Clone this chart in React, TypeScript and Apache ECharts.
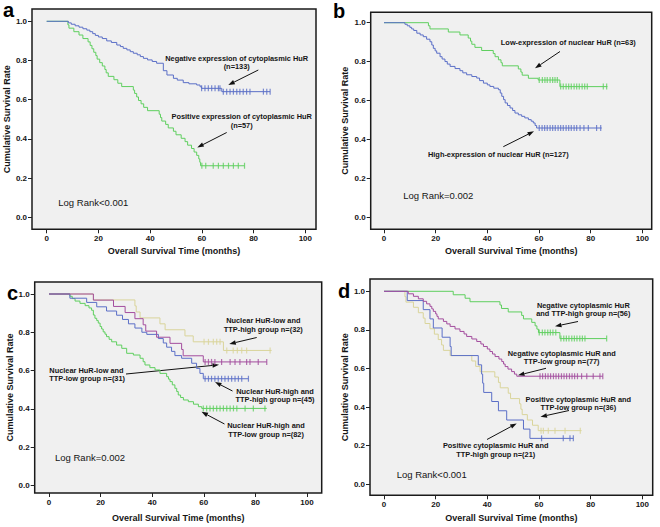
import React, { useEffect, useRef } from "react";
import * as echarts from "echarts";

// ---------- shared tick labels ----------
const xTicks = [0, 20, 40, 60, 80, 100];
const yTicks = [0, 0.2, 0.4, 0.6, 0.8, 1.0];
const xTitle = "Overall Survival Time (months)";
const yTitle = "Cumulative Survival Rate";

// ---------- panel a ----------
const aNegSteps = [
  [0, 1], [8.4, 0.992], [9.5, 0.985], [11, 0.977], [12.5, 0.97], [14, 0.962], [15.5, 0.955], [16.7, 0.947],
  [17.8, 0.937], [18.8, 0.928], [20, 0.92], [21.5, 0.912], [23.2, 0.9], [25, 0.892], [27.1, 0.879], [28.5, 0.871],
  [29.6, 0.862], [31, 0.854], [32.3, 0.845], [33.5, 0.837], [35, 0.829], [36.2, 0.82], [37.4, 0.811], [39, 0.803],
  [40.8, 0.795], [42.5, 0.786], [45.1, 0.748], [46.5, 0.726], [49, 0.709], [50.5, 0.7], [52.8, 0.687], [55, 0.681],
  [58, 0.675], [59.3, 0.666], [59.9, 0.658], [67.7, 0.641],
];
const aNegEnd = 86.4;
const aNegCensored = [59.9, 61.2, 62.5, 63.8, 65.1, 66.4, 67.0, 68.3, 69.6, 70.9, 72.2, 73.5, 74.7, 76.0, 77.3, 78.6, 83.8, 85.1, 86.4];

const aPosSteps = [
  [0, 1], [8.2, 0.982], [8.6, 0.965], [10.5, 0.947], [12.5, 0.93], [14, 0.912], [16, 0.895], [16.8, 0.877],
  [17.5, 0.86], [18.2, 0.842], [19, 0.825], [19.5, 0.807], [20.5, 0.789], [21.5, 0.772], [22.5, 0.754], [23, 0.737],
  [23.8, 0.719], [26, 0.702], [27.5, 0.684], [29, 0.667], [33.5, 0.649], [34, 0.632], [34.8, 0.614], [35.5, 0.596],
  [36.5, 0.579], [37.5, 0.561], [39, 0.544], [43.5, 0.526], [44, 0.509], [44.5, 0.491], [46, 0.474], [47, 0.456],
  [49, 0.439], [50, 0.421], [52, 0.403], [53.5, 0.386], [54.5, 0.368], [56, 0.351], [57, 0.333], [58, 0.316],
  [58.8, 0.298], [59.2, 0.281], [59.5, 0.263],
];
const aPosEnd = 76.5;
const aPosCensored = [60, 61.5, 64.4, 66.4, 68.3, 70.3, 72.2, 74.1, 76.5];

// ---------- panel b ----------
const bLowSteps = [
  [0, 1], [17.2, 0.984], [17.8, 0.968], [24.9, 0.952], [29.4, 0.937], [32.6, 0.921], [33.5, 0.905], [34, 0.889],
  [35.2, 0.873], [37.8, 0.857], [42.3, 0.841], [43, 0.825], [44.3, 0.809], [45.3, 0.794], [45.8, 0.778], [52, 0.762],
  [53, 0.746], [53.5, 0.73], [55.9, 0.714], [59.7, 0.705], [68.1, 0.671],
];
const bLowEnd = 86.5;
const bLowCensored = [60.1, 61.3, 62.3, 63.2, 64.3, 65.3, 66.2, 67.1, 68.4, 69.4, 70.5, 71.5, 72.5, 73.6, 74.6, 75.6, 76.7, 77.7, 78.7, 84.9, 86.2];

const bHighSteps = [
  [0, 1], [8.1, 0.992], [9, 0.984], [10, 0.976], [10.7, 0.968], [11.5, 0.96], [12.7, 0.946], [14, 0.937],
  [15.2, 0.928], [16.5, 0.915], [17.8, 0.902], [18.5, 0.885], [19.1, 0.868], [19.8, 0.855], [20.4, 0.843],
  [21.7, 0.825], [22.5, 0.813], [23.6, 0.8], [24.5, 0.787], [25.6, 0.775], [27.5, 0.764], [29.4, 0.753],
  [30.5, 0.742], [32, 0.732], [34, 0.723], [35.9, 0.715], [37, 0.702], [38.5, 0.689], [40, 0.68], [41, 0.672],
  [42.5, 0.663], [44.3, 0.655], [45, 0.638], [45.6, 0.621], [46.3, 0.604], [46.9, 0.587], [47.8, 0.574],
  [48.8, 0.561], [49.8, 0.548], [50.7, 0.535], [52, 0.526], [53.3, 0.518], [54.5, 0.51], [55.9, 0.501],
  [57, 0.493], [57.8, 0.484], [58.5, 0.471], [59.1, 0.458],
];
const bHighEnd = 84.3;
const bHighCensored = [60.1, 61.2, 62.2, 63.2, 64.3, 65.3, 66.3, 67.4, 68.4, 69.4, 70.5, 71.5, 72.5, 73.6, 74.6, 75.9, 77.4, 79.1, 82.3, 83.9];

// ---------- panel c ----------
const cLowHighSteps = [
  [0, 1], [17.2, 0.969], [33.3, 0.938], [33.8, 0.906], [35.3, 0.875], [43, 0.844], [45, 0.813], [52.7, 0.781],
  [55.9, 0.75], [67.6, 0.705],
];
const cLowHighEnd = 86.3;
const cLowHighCensored = [60.1, 61.8, 63.7, 65, 66.3, 68.9, 71.4, 73, 74.7, 76.6, 85.7];

const cLowLowSteps = [
  [0, 1], [17.2, 0.968], [25, 0.935], [29.5, 0.903], [33.3, 0.871], [36.5, 0.839], [37.5, 0.806], [41.7, 0.774],
  [46.9, 0.742], [51.4, 0.71], [52, 0.677], [59.8, 0.645],
];
const cLowLowEnd = 84.4;
const cLowLowCensored = [60.5, 61.8, 63.0, 64.3, 66.9, 70.2, 72.1, 74.0, 76.6, 77.9, 81.1, 84.4];

const cHighHighSteps = [
  [0, 1], [8.1, 0.978], [14.6, 0.956], [18.5, 0.933], [22.3, 0.911], [26.2, 0.889], [28.5, 0.867], [30.8, 0.844],
  [33.3, 0.822], [36, 0.8], [37.9, 0.789], [42.4, 0.767], [44.3, 0.744], [45.6, 0.722], [47.5, 0.7], [48.8, 0.678],
  [51.4, 0.664], [55.3, 0.638], [57.2, 0.611], [58.5, 0.585], [59.8, 0.557],
];
const cHighHighEnd = 77.3;
const cHighHighCensored = [60.5, 61.8, 63.0, 64.3, 65.6, 66.9, 68.2, 69.5, 70.8, 72.1, 73.4, 74.7, 77.3];

const cHighLowSteps = [
  [0, 1], [8.1, 0.988], [9, 0.976], [10.1, 0.963], [12, 0.951], [14, 0.939], [15.5, 0.927], [16.5, 0.915],
  [17.2, 0.89], [17.8, 0.873], [18.5, 0.861], [19.1, 0.848], [19.8, 0.83], [20.4, 0.817], [21, 0.802],
  [21.7, 0.79], [22.3, 0.777], [23.3, 0.763], [24.3, 0.75], [26.2, 0.733], [28.2, 0.716], [30.1, 0.69],
  [32.7, 0.681], [35.3, 0.664], [36.5, 0.646], [37.2, 0.629], [39.1, 0.615], [41.1, 0.603], [43, 0.585],
  [45.6, 0.568], [46.3, 0.555], [46.9, 0.542], [47.8, 0.525], [48.8, 0.507], [49.5, 0.49], [50.1, 0.472],
  [51, 0.459], [52.1, 0.446], [54, 0.437], [56, 0.424], [57.9, 0.411], [59.2, 0.402],
];
const cHighLowEnd = 84.4;
const cHighLowCensored = [59.8, 61.1, 62.4, 63.7, 65.0, 66.3, 67.6, 68.9, 70.2, 71.5, 72.8, 76.0, 79.2, 83.7];

// ---------- panel d ----------
const dNegHighSteps = [
  [0, 1], [26.8, 0.982], [31.4, 0.964], [33.3, 0.946], [44.9, 0.929], [45.5, 0.911], [48.1, 0.893],
  [53.3, 0.875], [54, 0.857], [57.2, 0.839], [58.5, 0.821], [59.2, 0.804], [59.8, 0.786], [68.1, 0.755],
];
const dNegHighEnd = 86.2;
const dNegHighCensored = [60.1, 61.3, 62.3, 63.4, 64.4, 65.4, 66.5, 68.5, 69.6, 70.6, 71.6, 72.7, 73.7, 74.7, 75.8, 76.8, 77.8, 86.2];

const dNegLowSteps = [
  [0, 1], [9.4, 0.987], [11.4, 0.974], [13.3, 0.961], [15.2, 0.948], [16.5, 0.935], [17.8, 0.922], [18.5, 0.909],
  [19.1, 0.896], [20, 0.883], [20.5, 0.87], [21, 0.857], [23, 0.844], [24.3, 0.831], [25.6, 0.818], [27.5, 0.805],
  [29.4, 0.792], [31, 0.779], [32, 0.766], [34, 0.753], [35.9, 0.74], [37.5, 0.727], [38.5, 0.714], [40, 0.701],
  [41, 0.688], [42, 0.675], [43, 0.662], [44.5, 0.649], [45.6, 0.636], [46.3, 0.623], [46.9, 0.61], [48, 0.597],
  [49.4, 0.584], [50.5, 0.571], [51.4, 0.56],
];
const dNegLowEnd = 84.7;
const dNegLowCensored = [60.4, 61.4, 62.5, 63.5, 64.5, 65.6, 66.6, 67.6, 68.7, 69.7, 70.7, 71.8, 72.8, 73.8, 74.9, 76.5, 78.5, 81.0, 83.6, 84.7];

const dPosLowSteps = [
  [0, 1], [8.1, 0.972], [8.5, 0.944], [11.4, 0.917], [13.3, 0.889], [15.2, 0.861], [15.9, 0.833], [17.8, 0.806],
  [19.5, 0.778], [21, 0.75], [22.3, 0.722], [23, 0.694], [25.6, 0.667], [34, 0.639], [35.5, 0.611], [37.2, 0.583],
  [42.9, 0.556], [44.3, 0.528], [45, 0.5], [48.1, 0.472], [49, 0.444], [52.5, 0.417], [53, 0.389], [53.5, 0.361],
  [55.5, 0.333], [57.5, 0.306], [59.7, 0.278],
];
const dPosLowEnd = 76.5;
const dPosLowCensored = [60.8, 61.7, 63.6, 66.2, 70.1, 76];

const dPosHighSteps = [
  [0, 1], [9, 0.952], [15.2, 0.905], [17.8, 0.857], [19.1, 0.81], [22.5, 0.762], [25.6, 0.714], [26, 0.667],
  [36.5, 0.619], [37.8, 0.571], [38.2, 0.524], [38.6, 0.476], [41.7, 0.429], [44.3, 0.381], [47.5, 0.333],
  [54, 0.286], [56.5, 0.238],
];
const dPosHighEnd = 73.3;
const dPosHighCensored = [61, 69.4, 72, 73.3];

// ---------- styling ----------
const BLUE = "#5b6fc7";
const GREEN = "#5fcf5f";
const PURPLE = "#a34d9e";
const KHAKI = "#d9d49a";
const TXT = "#151515";
const FONT = '"Liberation Sans", Arial, sans-serif';

type Curve = { steps: number[][]; end: number; censored: number[]; color: string };
type Panel = {
  letter: string; letterPos: [number, number];
  frame: [number, number, number, number];
  x0: number; x100: number; y0: number; y1: number;
  xNameGap: number; yNameGap: number;
  logRank: string; logPos: [number, number];
  curves: Curve[];
  notes: [string, number, number, string?][];
  arrows: [number, number, number, number][];
};

const panels: Panel[] = [
  {
    letter: "a", letterPos: [3, 10], frame: [32, 9, 316, 229.3], x0: 46.7, x100: 305.3, y0: 217.3, y1: 21.3,
    xNameGap: 17, yNameGap: 18, logRank: "Log Rank<0.001", logPos: [58.3, 202.5],
    curves: [
      { steps: aPosSteps, end: aPosEnd, censored: aPosCensored, color: GREEN },
      { steps: aNegSteps, end: aNegEnd, censored: aNegCensored, color: BLUE },
    ],
    notes: [
      ["Negative expression of cytoplasmic HuR\n(n=133)", 236.7, 62.3],
      ["Positive expression of cytoplasmic HuR\n(n=57)", 241.7, 121],
    ],
    arrows: [[258.3, 70, 228.3, 85], [226.7, 132.5, 197.3, 147.5]],
  },
  {
    letter: "b", letterPos: [333, 11], frame: [370.7, 12.3, 651.7, 229.3], x0: 384, x100: 642.3, y0: 217, y1: 22.7,
    xNameGap: 17, yNameGap: 21.5, logRank: "Log Rank=0.002", logPos: [403.3, 195.8],
    curves: [
      { steps: bLowSteps, end: bLowEnd, censored: bLowCensored, color: GREEN },
      { steps: bHighSteps, end: bHighEnd, censored: bHighCensored, color: BLUE },
    ],
    notes: [
      ["Low-expression of nuclear HuR (n=63)", 568.3, 42],
      ["High-expression of nuclear HuR (n=127)", 498.3, 154],
    ],
    arrows: [[560, 51.5, 535, 68.3], [503.3, 146.7, 534, 131.3]],
  },
  {
    letter: "c", letterPos: [7, 293], frame: [34.7, 282, 321.7, 493], x0: 49, x100: 307, y0: 485.3, y1: 294,
    xNameGap: 20, yNameGap: 19, logRank: "Log Rank=0.002", logPos: [55, 457],
    curves: [
      { steps: cLowHighSteps, end: cLowHighEnd, censored: cLowHighCensored, color: KHAKI },
      { steps: cHighLowSteps, end: cHighLowEnd, censored: cHighLowCensored, color: GREEN },
      { steps: cHighHighSteps, end: cHighHighEnd, censored: cHighHighCensored, color: BLUE },
      { steps: cLowLowSteps, end: cLowLowEnd, censored: cLowLowCensored, color: PURPLE },
    ],
    notes: [
      ["Nuclear HuR-low and\nTTP-high group n=(32)", 263.3, 325],
      ["Nuclear HuR-low and\nTTP-low group n=(31)", 49.3, 374.3, "left"],
      ["Nuclear HuR-high and\nTTP-high group n=(45)", 275, 395.3],
      ["Nuclear HuR-high and\nTTP-low group n=(82)", 266, 429.7],
    ],
    arrows: [[256.7, 337.5, 229.3, 344], [126, 374, 219, 364.8], [232.5, 391, 215, 382], [224.5, 424, 201.5, 411.8]],
  },
  {
    letter: "d", letterPos: [338, 291], frame: [370, 279, 652.7, 495.3], x0: 384, x100: 642.3, y0: 484.3, y1: 291.3,
    xNameGap: 18.5, yNameGap: 19.5, logRank: "Log Rank<0.001", logPos: [396.7, 474],
    curves: [
      { steps: dNegHighSteps, end: dNegHighEnd, censored: dNegHighCensored, color: GREEN },
      { steps: dPosLowSteps, end: dPosLowEnd, censored: dPosLowCensored, color: KHAKI },
      { steps: dPosHighSteps, end: dPosHighEnd, censored: dPosHighCensored, color: BLUE },
      { steps: dNegLowSteps, end: dNegLowEnd, censored: dNegLowCensored, color: PURPLE },
    ],
    notes: [
      ["Negative cytoplasmic HuR\nand TTP-high group n=(56)", 583.3, 309.3],
      ["Negative cytoplasmic HuR and\nTTP-low group n=(77)", 561.7, 357.5],
      ["Positive cytoplasmic HuR and\nTTP-low group n=(36)", 578.3, 403.5],
      ["Positive cytoplasmic HuR and\nTTP-high group n=(21)", 495.7, 450],
    ],
    arrows: [[578, 321.5, 555, 326.3], [546, 368.3, 518, 375.3], [569, 410.5, 540.5, 416.8], [487, 439.5, 516.7, 423.5]],
  },
];

function survivalAt(steps: number[][], t: number): number {
  let s = steps[0][1];
  for (const [ti, si] of steps) {
    if (ti <= t) s = si;
    else break;
  }
  return s;
}

function arrowEls(x1: number, y1: number, x2: number, y2: number) {
  const ang = Math.atan2(y2 - y1, x2 - x1);
  const L = 6.5;
  const W = 2.3;
  const bx = x2 - L * Math.cos(ang);
  const by = y2 - L * Math.sin(ang);
  const px = -Math.sin(ang) * W;
  const py = Math.cos(ang) * W;
  return [
    { type: "line", silent: true, shape: { x1, y1, x2: bx, y2: by }, style: { stroke: "#111", lineWidth: 1 } },
    {
      type: "polygon", silent: true,
      shape: { points: [[x2, y2], [bx + px, by + py], [bx - px, by - py]] },
      style: { fill: "#111" },
    },
  ];
}

function buildOption() {
  const grid: any[] = [];
  const xAxis: any[] = [];
  const yAxis: any[] = [];
  const series: any[] = [];
  const graphic: any[] = [];

  panels.forEach((p, i) => {
    const [l, t, r, b] = p.frame;
    grid.push({
      left: l, top: t, width: r - l, height: b - t, show: true,
      backgroundColor: "#f0f0f0", borderColor: "#1a1a1a", borderWidth: 1.5,
    });
    const xs = 100 / (p.x100 - p.x0);
    const ys = 1 / (p.y0 - p.y1);
    xAxis.push({
      type: "value", gridIndex: i,
      min: (l - p.x0) * xs, max: (r - p.x0) * xs,
      axisLine: { show: false, onZero: false },
      splitLine: { show: false },
      axisTick: { show: true, customValues: xTicks, length: 4, lineStyle: { color: "#222", width: 1 } },
      axisLabel: {
        customValues: xTicks, fontSize: 8, fontWeight: "bold", color: TXT, margin: 5, fontFamily: FONT,
        formatter: (v: number) => String(Math.round(v)),
      },
      name: xTitle, nameLocation: "middle", nameGap: p.xNameGap,
      nameTextStyle: { fontSize: 9, fontWeight: "bold", color: TXT, fontFamily: FONT },
    });
    yAxis.push({
      type: "value", gridIndex: i,
      min: (p.y0 - b) * ys, max: (p.y0 - t) * ys,
      axisLine: { show: false, onZero: false },
      splitLine: { show: false },
      axisTick: { show: true, customValues: yTicks, length: 4, lineStyle: { color: "#222", width: 1 } },
      axisLabel: {
        customValues: yTicks, fontSize: 8, fontWeight: "bold", color: TXT, margin: 5, fontFamily: FONT,
        formatter: (v: number) => v.toFixed(1),
      },
      name: yTitle, nameLocation: "middle", nameGap: p.yNameGap,
      nameTextStyle: { fontSize: 9, fontWeight: "bold", color: TXT, fontFamily: FONT },
    });

    p.curves.forEach((c) => {
      const last = c.steps[c.steps.length - 1][1];
      series.push({
        type: "line", xAxisIndex: i, yAxisIndex: i, step: "end", silent: true,
        symbol: "none", showSymbol: false, z: 2,
        lineStyle: { color: c.color, width: 1 },
        data: [...c.steps, [c.end, last]],
      });
      series.push({
        type: "scatter", xAxisIndex: i, yAxisIndex: i, silent: true, z: 3,
        symbol: "rect", symbolSize: [1.2, 6],
        itemStyle: { color: c.color },
        data: c.censored.map((tm) => [tm, survivalAt(c.steps, tm)]),
      });
    });

    graphic.push({
      type: "text", x: p.letterPos[0], y: p.letterPos[1], silent: true,
      style: { text: p.letter, font: `bold 20px ${FONT}`, fill: "#000", align: "left", verticalAlign: "middle" },
    });
    graphic.push({
      type: "text", x: p.logPos[0], y: p.logPos[1], silent: true,
      style: { text: p.logRank, font: `9.5px ${FONT}`, fill: TXT, align: "left", verticalAlign: "middle" },
    });
    p.notes.forEach(([txt, x, y, al]) => {
      graphic.push({
        type: "text", x, y, silent: true,
        style: {
          text: txt, font: `bold 7.4px ${FONT}`, lineHeight: 8.6, fill: TXT,
          align: al || "center", verticalAlign: "middle",
        },
      });
    });
    p.arrows.forEach(([x1, y1, x2, y2]) => graphic.push(...arrowEls(x1, y1, x2, y2)));
  });

  return {
    animation: false,
    backgroundColor: "#ffffff",
    grid, xAxis, yAxis, series,
    graphic: { elements: graphic },
  };
}

export default function App() {
  const ref = useRef<HTMLDivElement>(null);
  useEffect(() => {
    if (!ref.current) return;
    const chart = echarts.init(ref.current, undefined, { renderer: "svg" });
    chart.setOption(buildOption() as any);
    return () => chart.dispose();
  }, []);
  return (
    <div
      ref={ref}
      style={{ position: "absolute", left: 0, top: 0, width: 660, height: 527, background: "#fff" }}
    />
  );
}
